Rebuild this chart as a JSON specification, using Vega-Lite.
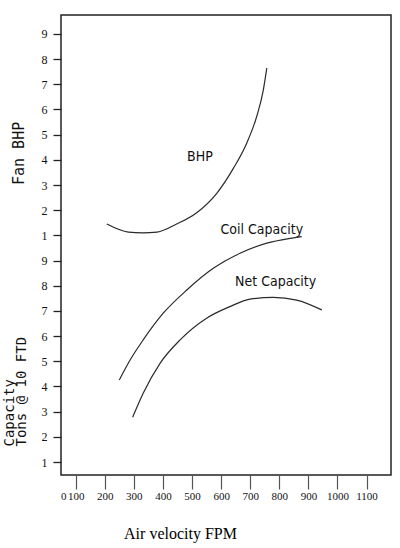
{
  "$schema": "https://vega.github.io/schema/vega-lite/v6.json",
  "width": 330,
  "height": 460,
  "autosize": "none",
  "padding": {"left": 61, "top": 15, "right": 9, "bottom": 73},
  "background": "white",
  "config": {
    "view": {"stroke": "#222222", "strokeWidth": 1.5},
    "axis": {"grid": false}
  },
  "datasets": {
    "capacity": [
      {"series": "Coil Capacity", "fpm": 250, "tons": 4.26},
      {"series": "Coil Capacity", "fpm": 287, "tons": 5.05},
      {"series": "Coil Capacity", "fpm": 332, "tons": 5.85},
      {"series": "Coil Capacity", "fpm": 401, "tons": 6.91},
      {"series": "Coil Capacity", "fpm": 482, "tons": 7.83},
      {"series": "Coil Capacity", "fpm": 573, "tons": 8.69},
      {"series": "Coil Capacity", "fpm": 665, "tons": 9.29},
      {"series": "Coil Capacity", "fpm": 757, "tons": 9.69},
      {"series": "Coil Capacity", "fpm": 837, "tons": 9.88},
      {"series": "Coil Capacity", "fpm": 877, "tons": 9.95},
      {"series": "Net Capacity", "fpm": 296, "tons": 2.78},
      {"series": "Net Capacity", "fpm": 332, "tons": 3.73},
      {"series": "Net Capacity", "fpm": 390, "tons": 4.92},
      {"series": "Net Capacity", "fpm": 459, "tons": 5.85},
      {"series": "Net Capacity", "fpm": 550, "tons": 6.71},
      {"series": "Net Capacity", "fpm": 630, "tons": 7.17},
      {"series": "Net Capacity", "fpm": 699, "tons": 7.47},
      {"series": "Net Capacity", "fpm": 779, "tons": 7.54},
      {"series": "Net Capacity", "fpm": 860, "tons": 7.43},
      {"series": "Net Capacity", "fpm": 946, "tons": 7.04}
    ],
    "capLabels": [
      {"label": "Coil Capacity", "fpm": 598, "tons": 10.21},
      {"label": "Net Capacity", "fpm": 648, "tons": 8.13}
    ],
    "bhp": [
      {"fpm": 207, "bhp": 1.45},
      {"fpm": 281, "bhp": 1.13},
      {"fpm": 330, "bhp": 1.1},
      {"fpm": 380, "bhp": 1.13},
      {"fpm": 447, "bhp": 1.45},
      {"fpm": 516, "bhp": 1.9},
      {"fpm": 585, "bhp": 2.67},
      {"fpm": 642, "bhp": 3.66},
      {"fpm": 688, "bhp": 4.66},
      {"fpm": 722, "bhp": 5.71},
      {"fpm": 745, "bhp": 6.77},
      {"fpm": 757, "bhp": 7.64}
    ],
    "bhpLabels": [
      {"label": "BHP", "fpm": 527, "bhp": 4.12}
    ],
    "bhpTitle": [
      {"label": "Fan BHP", "fpm": -78, "bhp": 3.0}
    ]
  },
  "encoding": {
    "x": {
      "field": "fpm", "type": "quantitative",
      "scale": {"domain": [49.5, 1184], "nice": false, "zero": false},
      "axis": {
        "values": [57, 100, 200, 300, 400, 500, 600, 700, 800, 900, 1000, 1100],
        "labelExpr": "datum.value == 57 ? '0' : datum.label",
        "format": "d",
        "domain": false,
        "tickSize": 14,
        "tickColor": "#555555",
        "tickWidth": 1.2,
        "tickOpacity": {"condition": {"test": "datum.value == 57", "value": 0}, "value": 1},
        "labelFont": "Liberation Serif",
        "labelFontSize": 11,
        "labelColor": "#111111",
        "labelPadding": 1,
        "labelFlush": false,
        "labelOverlap": false,
        "title": "Air velocity FPM",
        "titleFont": "Liberation Serif",
        "titleFontSize": 16,
        "titleFontWeight": "normal",
        "titleColor": "#000000",
        "titleX": 119,
        "titleY": 63,
        "titleAlign": "center",
        "titleBaseline": "alphabetic"
      }
    }
  },
  "layer": [
    {
      "data": {"name": "capacity"},
      "mark": {"type": "line", "interpolate": "monotone", "color": "#2a2a2a", "strokeWidth": 1.2},
      "encoding": {
        "detail": {"field": "series"},
        "y": {
          "field": "tons", "type": "quantitative",
          "scale": {"domain": [0.484, 18.752], "nice": false, "zero": false},
          "axis": {
            "values": [1, 2, 3, 4, 5, 6, 7, 8, 9, 10, 11, 12, 13, 14, 15, 16, 17, 18],
            "labelExpr": "datum.value <= 9 ? datum.label : '' + (datum.value - 9)",
            "domain": false,
            "tickSize": 8,
            "tickColor": "#222222",
            "tickWidth": 1.3,
            "labelFont": "Liberation Serif",
            "labelFontSize": 12,
            "labelColor": "#111111",
            "labelPadding": 6,
            "labelFlush": false,
            "labelOverlap": false,
            "title": ["Capacity", "Tons @ 10 FTD"],
            "titleFont": "DejaVu Sans Mono",
            "titleFontSize": 14,
            "titleFontWeight": "normal",
            "titleColor": "#111111",
            "titleAngle": 270,
            "titleAlign": "left",
            "titleBaseline": "alphabetic",
            "titleLineHeight": 12.5,
            "titleX": -48,
            "titleY": 431
          }
        }
      }
    },
    {
      "data": {"name": "capLabels"},
      "mark": {"type": "text", "align": "left", "baseline": "middle", "font": "Liberation Sans Narrow, DejaVu Sans Condensed, Liberation Sans", "fontSize": 14, "color": "#111111"},
      "encoding": {
        "y": {"field": "tons", "type": "quantitative", "scale": {"domain": [0.484, 18.752], "nice": false, "zero": false}, "axis": null},
        "text": {"field": "label"}
      }
    },
    {
      "data": {"name": "bhp"},
      "mark": {"type": "line", "interpolate": "monotone", "color": "#2a2a2a", "strokeWidth": 1.2},
      "encoding": {
        "y": {"field": "bhp", "type": "quantitative", "scale": {"domain": [-8.516, 9.752], "nice": false, "zero": false}, "axis": null}
      }
    },
    {
      "data": {"name": "bhpLabels"},
      "mark": {"type": "text", "align": "center", "baseline": "middle", "font": "Liberation Sans Narrow, DejaVu Sans Condensed, Liberation Sans", "fontSize": 14, "color": "#111111"},
      "encoding": {
        "y": {"field": "bhp", "type": "quantitative", "scale": {"domain": [-8.516, 9.752], "nice": false, "zero": false}, "axis": null},
        "text": {"field": "label"}
      }
    },
    {
      "data": {"name": "bhpTitle"},
      "mark": {"type": "text", "align": "left", "baseline": "alphabetic", "angle": 270, "font": "DejaVu Sans Mono", "fontSize": 15, "color": "#111111"},
      "encoding": {
        "y": {"field": "bhp", "type": "quantitative", "scale": {"domain": [-8.516, 9.752], "nice": false, "zero": false}, "axis": null},
        "text": {"field": "label"}
      }
    }
  ],
  "resolve": {"scale": {"y": "independent"}}
}
